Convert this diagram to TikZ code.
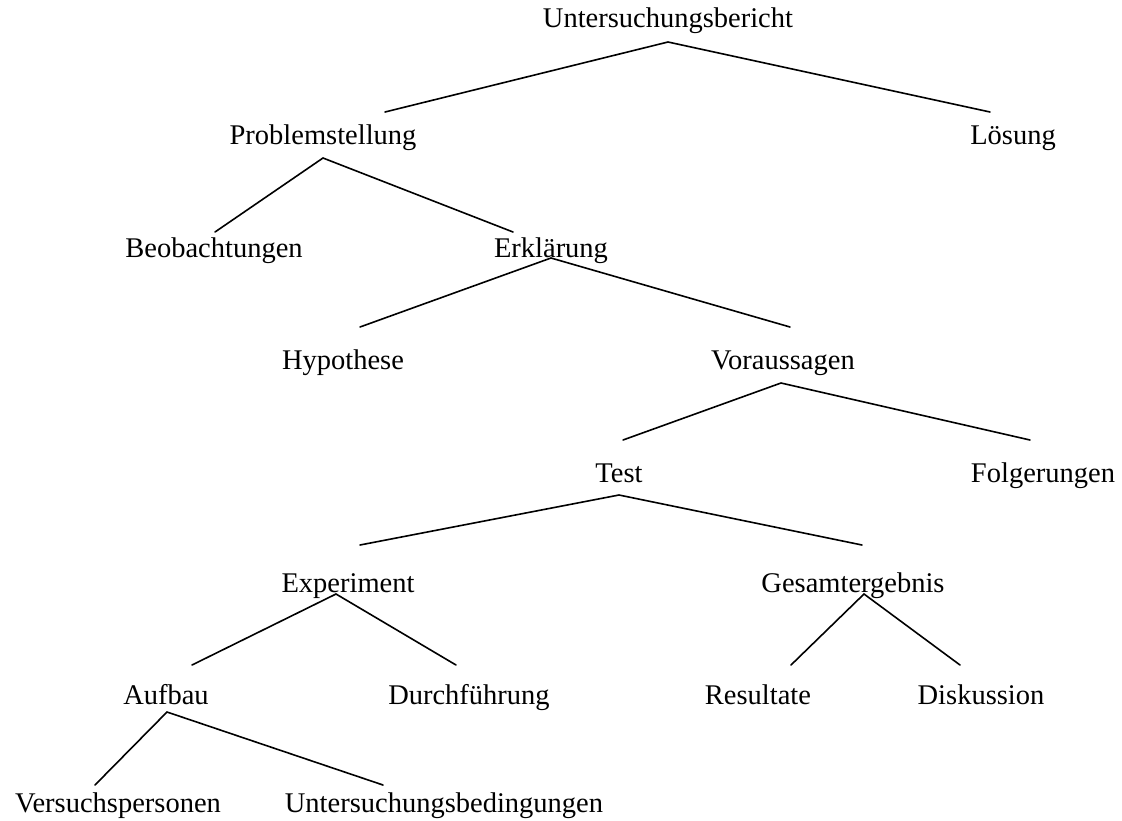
\documentclass[tikz,border=0pt]{standalone}
\usepackage{fontspec}
\setmainfont{Liberation Serif}
\begin{document}
\begin{tikzpicture}[x=1pt,y=-1pt,
  lbl/.style={inner sep=0pt,anchor=base,font=\fontsize{28.5}{30}\selectfont},
  edge/.style={line width=1.6pt,line cap=round}]
\useasboundingbox (0,0) rectangle (1122,820);
% labels
\node[lbl] (ub)  at (668,27)  {Untersuchungsbericht};
\node[lbl] (ps)  at (323,144) {Problemstellung};
\node[lbl] (lo)  at (1013,144){Lösung};
\node[lbl] (beo) at (214,257) {Beobachtungen};
\node[lbl] (erk) at (551,257) {Erklärung};
\node[lbl] (hyp) at (343,369) {Hypothese};
\node[lbl] (vor) at (783,369) {Voraussagen};
\node[lbl] (tes) at (619,482) {Test};
\node[lbl] (fol) at (1043,482){Folgerungen};
\node[lbl] (exp) at (348,592) {Experiment};
\node[lbl] (ges) at (853,592) {Gesamtergebnis};
\node[lbl] (auf) at (166,704) {Aufbau};
\node[lbl] (dur) at (469,704) {Durchführung};
\node[lbl] (res) at (758,704) {Resultate};
\node[lbl] (dis) at (981,704) {Diskussion};
\node[lbl] (vp)  at (118,812) {Versuchspersonen};
\node[lbl] (ubd) at (444,812) {Untersuchungsbedingungen};
% connector ends
\coordinate (ub-o)  at (668,42);
\coordinate (ps-i)  at (385,112);
\coordinate (lo-i)  at (990,112);
\coordinate (ps-o)  at (323,158);
\coordinate (beo-i) at (215,232);
\coordinate (erk-i) at (513,232);
\coordinate (erk-o) at (551,258);
\coordinate (hyp-i) at (360,327);
\coordinate (vor-i) at (790,327);
\coordinate (vor-o) at (781,383);
\coordinate (tes-i) at (623,440);
\coordinate (fol-i) at (1030,440);
\coordinate (tes-o) at (619,495);
\coordinate (exp-i) at (360,545);
\coordinate (ges-i) at (862,545);
\coordinate (exp-o) at (336,594);
\coordinate (auf-i) at (192,665);
\coordinate (dur-i) at (456,665);
\coordinate (ges-o) at (864,594);
\coordinate (res-i) at (791,665);
\coordinate (dis-i) at (960,665);
\coordinate (auf-o) at (167,712);
\coordinate (vp-i)  at (95,785);
\coordinate (ubd-i) at (383,785);
% connectors
\draw[edge] (ps-i) -- (ub-o) -- (lo-i);
\draw[edge] (beo-i) -- (ps-o) -- (erk-i);
\draw[edge] (hyp-i) -- (erk-o) -- (vor-i);
\draw[edge] (tes-i) -- (vor-o) -- (fol-i);
\draw[edge] (exp-i) -- (tes-o) -- (ges-i);
\draw[edge] (auf-i) -- (exp-o) -- (dur-i);
\draw[edge] (res-i) -- (ges-o) -- (dis-i);
\draw[edge] (vp-i) -- (auf-o) -- (ubd-i);
\end{tikzpicture}
\end{document}
